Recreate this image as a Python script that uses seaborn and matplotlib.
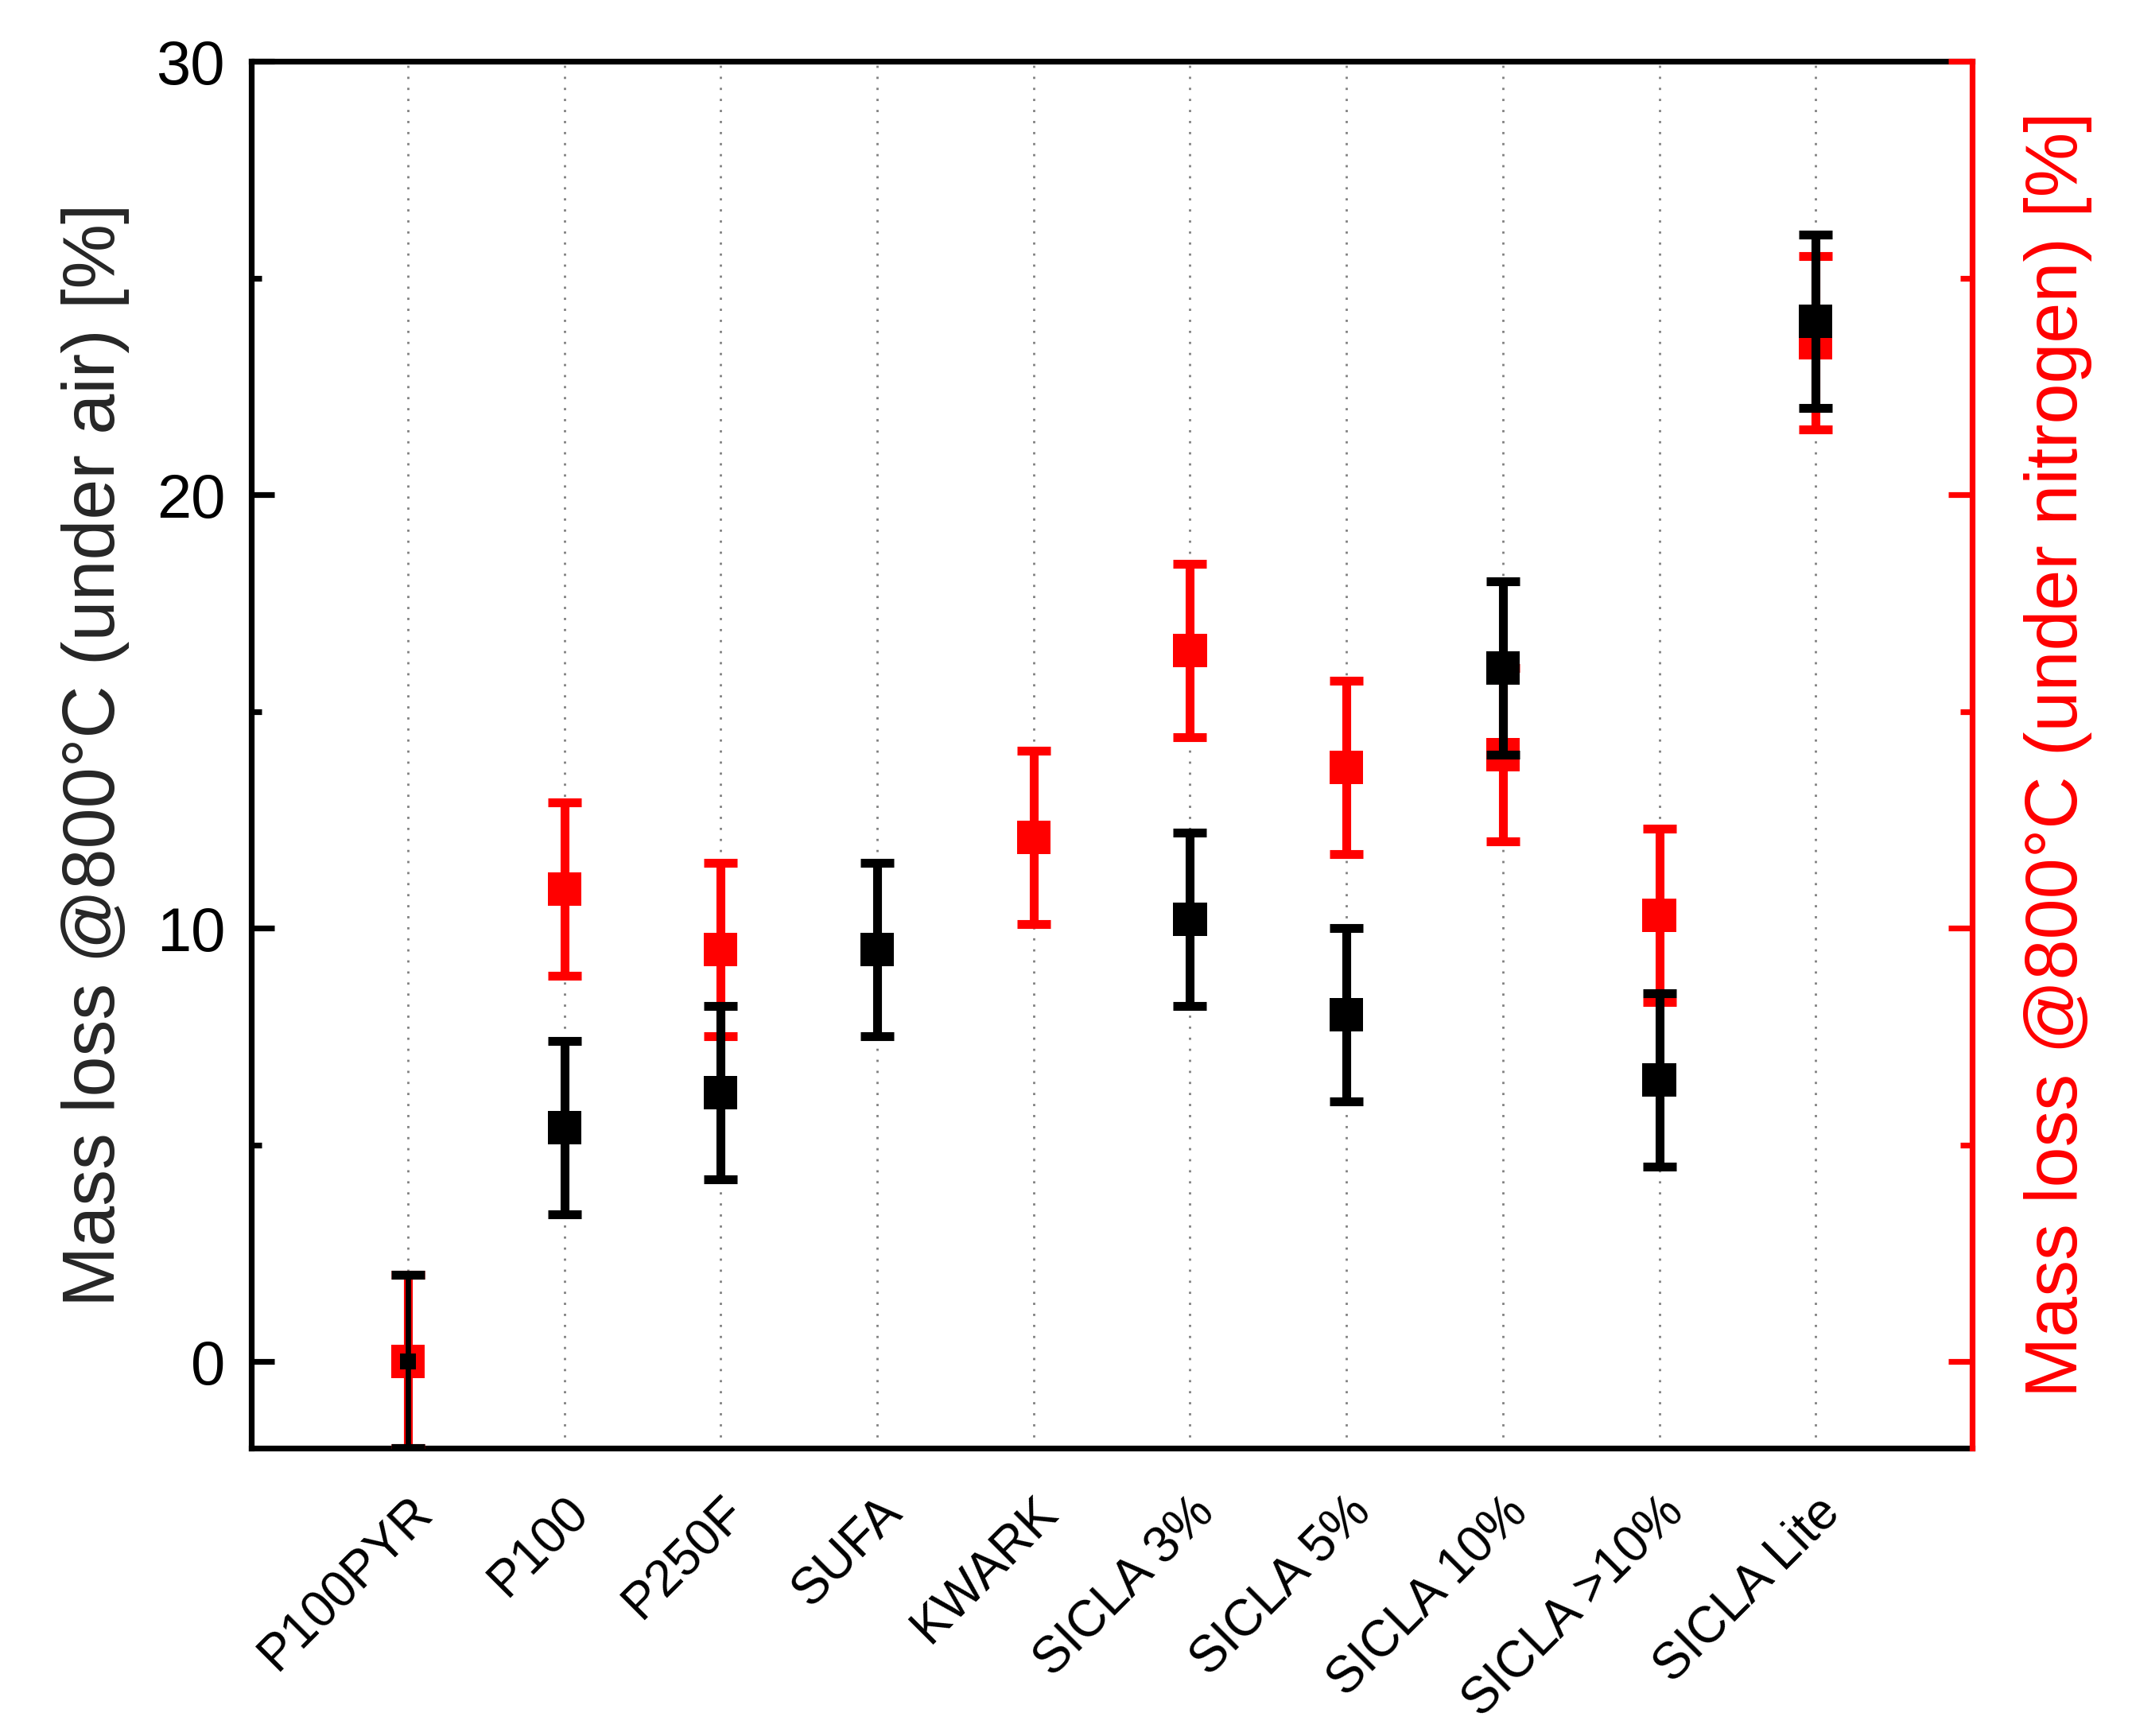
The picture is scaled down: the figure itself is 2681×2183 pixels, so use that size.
import numpy as np
import pandas as pd
import matplotlib
matplotlib.use("Agg")
import matplotlib.pyplot as plt
import seaborn as sns
from matplotlib.ticker import MultipleLocator

# ─── Data ────────────────────────────────────────────────────────────────────
samples = ["P100PYR", "P100", "P250F", "SUFA", "KWARK",
           "SICLA 3%", "SICLA 5%", "SICLA 10%", "SICLA >10%", "SICLA Lite"]
loss_air = [0.0, 5.4, 6.2, 9.5, np.nan, 10.2, 8.0, 16.0, 6.5, 24.0]
err_air = [2.0, 2.0, 2.0, 2.0, np.nan, 2.0, 2.0, 2.0, 2.0, 2.0]
loss_n2 = [0.0, 10.9, 9.5, np.nan, 12.1, 16.4, 13.7, 14.0, 10.3, 23.5]
err_n2 = [2.0, 2.0, 2.0, np.nan, 2.0, 2.0, 2.0, 2.0, 2.0, 2.0]

df = pd.DataFrame({
    "sample": samples,
    "air": loss_air,
    "air_err": err_air,
    "n2": loss_n2,
    "n2_err": err_n2,
})
df["pos"] = np.arange(len(df))

# ─── Style ───────────────────────────────────────────────────────────────────
sns.set_theme(style="ticks")
plt.rcParams["font.family"] = ["Liberation Sans", "DejaVu Sans"]

fig = plt.figure(figsize=(13.405, 10.915), dpi=200)
ax = fig.add_axes([0.118, 0.1658, 0.807, 0.7989])

bar_kw = dict(fmt="none", elinewidth=4.0, capsize=7.5, capthick=4.0)

# ─── Nitrogen series (red) ───────────────────────────────────────────────────
ax.errorbar(df["pos"], df["n2"], yerr=df["n2_err"], ecolor="red", zorder=3, **bar_kw)
sns.scatterplot(data=df, x="pos", y="n2", marker="s", s=230, color="red",
                edgecolor="none", linewidth=0, ax=ax, zorder=4, legend=False)

# ─── Air series (black) ──────────────────────────────────────────────────────
first = df.iloc[:1]
rest = df.iloc[1:]
ax.errorbar(rest["pos"], rest["air"], yerr=rest["air_err"], ecolor="black", zorder=5, **bar_kw)
ax.errorbar(first["pos"], first["air"], yerr=first["air_err"], fmt="none", ecolor="black",
            elinewidth=2.4, capsize=7.5, capthick=4.0, zorder=5)
sns.scatterplot(data=rest, x="pos", y="air", marker="s", s=230, color="black",
                edgecolor="none", linewidth=0, ax=ax, zorder=6, legend=False)
sns.scatterplot(data=first, x="pos", y="air", marker="s", s=50, color="black",
                edgecolor="none", linewidth=0, ax=ax, zorder=6, legend=False)

# ─── Axes ────────────────────────────────────────────────────────────────────
ax.set_xlim(-1, len(samples))
ax.set_ylim(-2, 30)
ax.set_xticks(df["pos"])
ax.set_xticklabels(samples, rotation=45, ha="right", va="top", rotation_mode="anchor")
ax.set_yticks([0, 10, 20, 30])
ax.yaxis.set_minor_locator(MultipleLocator(5))
ax.xaxis.grid(True, linestyle=(0, (1, 4)), color="gray", linewidth=1.0, zorder=0)
ax.yaxis.grid(False)
ax.set_axisbelow(True)

ax.tick_params(axis="x", length=0, pad=18, labelsize=23, colors="black")
ax.tick_params(axis="y", which="major", direction="in", length=10.5, width=2.6,
               labelsize=28, pad=12, colors="black")
ax.tick_params(axis="y", which="minor", direction="in", length=4.5, width=2.6,
               colors="black")
ax.set_xlabel("")
ax.set_ylabel("Mass loss @800°C (under air) [%]", fontsize=33, labelpad=12)

for side in ["left", "top", "bottom"]:
    ax.spines[side].set_linewidth(2.6)
    ax.spines[side].set_color("black")
ax.spines["right"].set_visible(False)

# ─── Right axis (nitrogen) ───────────────────────────────────────────────────
ax2 = ax.twinx()
ax2.set_ylim(-2, 30)
ax2.set_yticks([0, 10, 20, 30])
ax2.yaxis.set_minor_locator(MultipleLocator(5))
ax2.grid(False)
ax2.tick_params(axis="y", which="major", direction="in", length=10.8, width=2.6,
                colors="red", labelright=False)
ax2.tick_params(axis="y", which="minor", direction="in", length=5.4, width=2.6,
                colors="red")
for side in ["left", "top", "bottom"]:
    ax2.spines[side].set_visible(False)
ax2.spines["right"].set_color("red")
ax2.spines["right"].set_linewidth(2.6)
ax2.set_ylabel("Mass loss @800°C (under nitrogen) [%]", fontsize=33, color="red",
               labelpad=20)

fig.savefig("out.png", dpi=200, facecolor="white")
